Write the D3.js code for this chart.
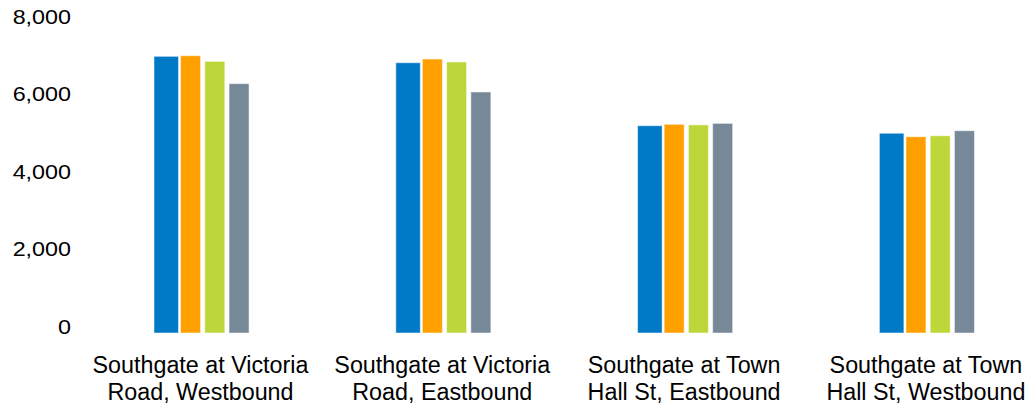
<!DOCTYPE html>
<html>
<head>
<meta charset="utf-8">
<script src="https://cdn.jsdelivr.net/npm/d3@7"></script>
<style>
  html, body { margin: 0; padding: 0; background: #fff; }
  svg { display: block; }
  text { font-family: "Liberation Sans", Arial, sans-serif; fill: #000; }
</style>
</head>
<body>
<svg id="chart" width="1035" height="410"></svg>
<script>
// ---- data ----
const categories = [
  ["Southgate at Victoria", "Road, Westbound"],
  ["Southgate at Victoria", "Road, Eastbound"],
  ["Southgate at Town", "Hall St, Eastbound"],
  ["Southgate at Town", "Hall St, Westbound"]
];
const seriesNames = ["S1", "S2", "S3", "S4"];
const series1 = [7140, 6975, 5350, 5155];
const series2 = [7155, 7070, 5385, 5065];
const series3 = [7010, 6995, 5370, 5090];
const series4 = [6435, 6220, 5410, 5220];
const yTicks = [0, 2000, 4000, 6000, 8000];
const colors = ["#0079C6", "#FFA000", "#BDD63A", "#778899"];

const allSeries = [series1, series2, series3, series4];
const catKeys = categories.map((c, i) => i);

const svg = d3.select("#chart");

// ---- scales ----
const y = d3.scaleLinear().domain([0, 8000]).range([333, 23]);
const groupW = 97;
const step = 241.8;
const pInner = 1 - groupW / step;
const x0 = d3.scaleBand().domain(catKeys)
  .range([81.6, 81.6 + step * categories.length])
  .paddingInner(pInner).paddingOuter(pInner / 2);
const x1 = d3.scaleBand().domain(d3.range(seriesNames.length)).range([0, groupW]);

// ---- y axis ----
const yAxis = d3.axisLeft(y).tickValues(yTicks).tickFormat(d3.format(",")).tickSize(0).tickPadding(0);
const gy = svg.append("g").attr("transform", "translate(71,0)").call(yAxis);
gy.select(".domain").remove();
gy.selectAll("text")
  .attr("x", 0).attr("dy", 0)
  .attr("text-anchor", "end")
  .style("font-size", "20px")
  .attr("transform", "scale(1.166,1)");

// ---- bars ----
const groups = svg.append("g").selectAll("g")
  .data(catKeys).join("g")
  .attr("transform", d => `translate(${x0(d)},0)`);

groups.selectAll("rect")
  .data(ci => allSeries.map((s, si) => ({ si, v: s[ci] })))
  .join("rect")
  .attr("x", d => x1(d.si) + (d.si === 0 ? 0 : 2.3))
  .attr("width", d => d.si === 0 ? 24.5 : 20)
  .attr("y", d => y(d.v))
  .attr("height", d => y(0) - y(d.v))
  .attr("fill", d => colors[d.si])
  .attr("stroke", "rgba(255,255,255,0.5)")
  .attr("stroke-width", 1);

// ---- x axis labels ----
const xAxis = d3.axisBottom(x0).tickSize(0).tickFormat(() => "");
const gx = svg.append("g").attr("transform", "translate(0,333)").call(xAxis);
gx.select(".domain").remove();
gx.selectAll(".tick text").each(function(d) {
  const t = d3.select(this);
  t.attr("y", 0).attr("dy", 0).attr("text-anchor", "middle").style("font-size", "23.3px");
  t.selectAll("tspan").data(categories[d]).join("tspan")
    .attr("x", -2)
    .attr("y", (l, i) => 39.5 + i * 27.5)
    .text(l => l);
});
</script>
</body>
</html>
